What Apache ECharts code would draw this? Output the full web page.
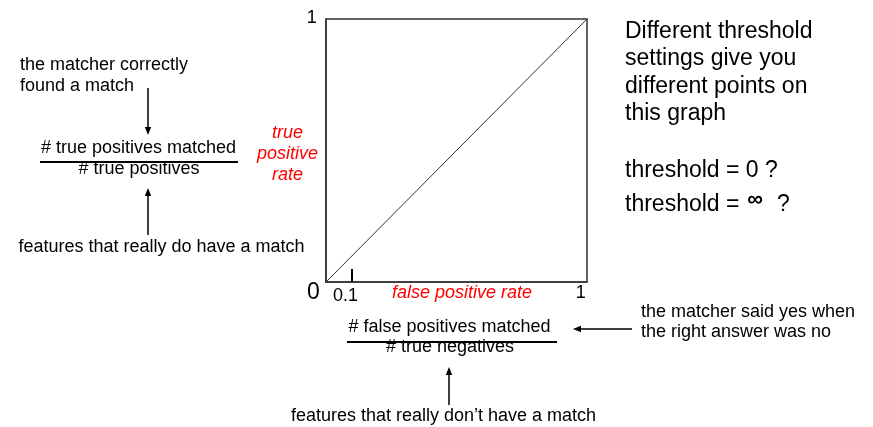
<!DOCTYPE html>
<html>
<head>
<meta charset="utf-8">
<script src="https://cdn.jsdelivr.net/npm/echarts@6/dist/echarts.min.js"></script>
<style>
  html, body { margin: 0; padding: 0; background: #fff; }
  #chart { width: 873px; height: 427px; }
</style>
</head>
<body>
<div id="chart"></div>
<script>
// ROC space: false positive rate (x) against true positive rate (y)
const xTickValues = [0.1, 1];
const xTickLabels = ['0.1', '1'];
const yTickValues = [1];
const yTickLabels = ['1'];
const originValue = [0, 0];
const originLabel = '0';
const markerTicks = [0.1];
// chance diagonal
const chanceX = [0, 1];
const chanceY = [0, 1];

const FONT = '"Liberation Sans", Arial, Helvetica, sans-serif';
const INK = '#000';
const RED = '#ff0000';
const DY = 1.5; // baseline nudge for all annotation text

const chart = echarts.init(document.getElementById('chart'), null, { renderer: 'canvas' });

chart.setOption({
  animation: false,
  backgroundColor: '#fff',
  grid: {
    left: 326, top: 19, width: 261, height: 263,
    show: true, borderColor: '#333', borderWidth: 1.5, backgroundColor: 'transparent'
  },
  xAxis: {
    type: 'value', min: 0, max: 1,
    axisLine: { show: true, onZero: false, lineStyle: { color: '#333', width: 1.5 } },
    axisTick: { show: true, inside: true, customValues: markerTicks, length: 13,
                lineStyle: { color: INK, width: 2 } },
    axisLabel: { show: false },
    splitLine: { show: false }
  },
  yAxis: {
    type: 'value', min: 0, max: 1,
    axisLine: { show: true, onZero: false, lineStyle: { color: '#333', width: 1.5 } },
    axisTick: { show: false },
    axisLabel: { show: false },
    splitLine: { show: false }
  },
  series: [{
    type: 'line',
    data: chanceX.map((x, i) => [x, chanceY[i]]),
    symbol: 'none',
    silent: true,
    lineStyle: { color: '#333', width: 1 }
  }]
});

function txt(text, x, y, size, opts) {
  opts = opts || {};
  const font = (opts.italic ? 'italic ' : '') + (opts.bold ? 'bold ' : '') + size + 'px ' + FONT;
  const align = opts.align || 'left';
  return {
    type: 'text', silent: true, z: 10,
    style: {
      text: text, x: x, y: y + DY, font: font,
      fill: opts.color || INK,
      align: align, textAlign: align,
      verticalAlign: 'middle', textVerticalAlign: 'middle',
      lineHeight: opts.lineHeight
    }
  };
}
function seg(x1, y1, x2, y2, w) {
  return { type: 'line', silent: true, shape: { x1, y1, x2, y2 },
           style: { stroke: INK, lineWidth: w || 1.5 } };
}
function arrow(x1, y1, x2, y2) {
  // shaft from (x1,y1) to head tip at (x2,y2)
  const dx = x2 - x1, dy = y2 - y1, len = Math.hypot(dx, dy);
  const ux = dx / len, uy = dy / len, hl = 8, hw = 3.2;
  const bx = x2 - ux * hl, by = y2 - uy * hl;
  return [
    seg(x1, y1, bx, by, 1.5),
    { type: 'polygon', silent: true,
      shape: { points: [[x2, y2], [bx - uy * hw, by + ux * hw], [bx + uy * hw, by - ux * hw]] },
      style: { fill: INK } }
  ];
}

// tick labels placed through the axis scales
const xLabelOffsets = [{ dx: -6.5, dy: 13, size: 18 }, { dx: -6.2, dy: 9.5, size: 18 }];
const yLabelOffsets = [{ dx: -14.2, dy: -2, size: 18 }];
const originOffset = { dx: -12.7, dy: 9, size: 23 };

const els = [];
xTickValues.forEach((v, i) => {
  const p = chart.convertToPixel({ gridIndex: 0 }, [v, 0]);
  const o = xLabelOffsets[i];
  els.push(txt(xTickLabels[i], p[0] + o.dx, p[1] + o.dy, o.size, { align: 'center' }));
});
yTickValues.forEach((v, i) => {
  const p = chart.convertToPixel({ gridIndex: 0 }, [0, v]);
  const o = yLabelOffsets[i];
  els.push(txt(yTickLabels[i], p[0] + o.dx, p[1] + o.dy, o.size, { align: 'center' }));
});
{
  const p = chart.convertToPixel({ gridIndex: 0 }, originValue);
  els.push(txt(originLabel, p[0] + originOffset.dx, p[1] + originOffset.dy, originOffset.size, { align: 'center' }));
}

// axis names
els.push(txt('false positive rate', 462, 291.2, 18, { italic: true, color: RED, align: 'center' }));
els.push(txt('true\npositive\nrate', 287.5, 152, 18, { italic: true, color: RED, align: 'center', lineHeight: 21 }));

// true positive rate explanation
els.push(txt('the matcher correctly\nfound a match', 20, 74.2, 18, { lineHeight: 20.5 }));
els.push(...arrow(148, 88, 148, 135));
els.push(txt('# true positives matched', 138.5, 146.2, 18, { align: 'center' }));
els.push(seg(40, 162, 238, 162, 2));
els.push(txt('# true positives', 139, 167.2, 18, { align: 'center' }));
els.push(...arrow(148, 235, 148, 188));
els.push(txt('features that really do have a match', 161.5, 245.2, 18, { align: 'center' }));

// false positive rate explanation
els.push(txt('# false positives matched', 449.5, 325.2, 18, { align: 'center' }));
els.push(seg(347, 342, 557, 342, 2));
els.push(txt('# true negatives', 450, 345.9, 18, { align: 'center' }));
els.push(...arrow(449, 405, 449, 367));
els.push(txt('features that really don\u2019t have a match', 443.5, 414.2, 18, { align: 'center' }));
els.push(...arrow(632, 329, 573, 329));
els.push(txt('the matcher said yes when\nthe right answer was no', 641, 320.4, 18, { lineHeight: 19.5 }));

// threshold notes
els.push(txt('Different threshold\nsettings give you\ndifferent points on\nthis graph', 625, 71, 23, { lineHeight: 27.5 }));
els.push(txt('threshold = 0 ?', 625, 169.3, 23));
els.push(txt('threshold =', 625, 203.6, 23));
els.push(txt('\u221e', 755, 198, 22, { bold: true, align: 'center' }));
els.push(txt('?', 783.5, 203.6, 23, { align: 'center' }));

chart.setOption({ graphic: { elements: els } });
</script>
</body>
</html>
